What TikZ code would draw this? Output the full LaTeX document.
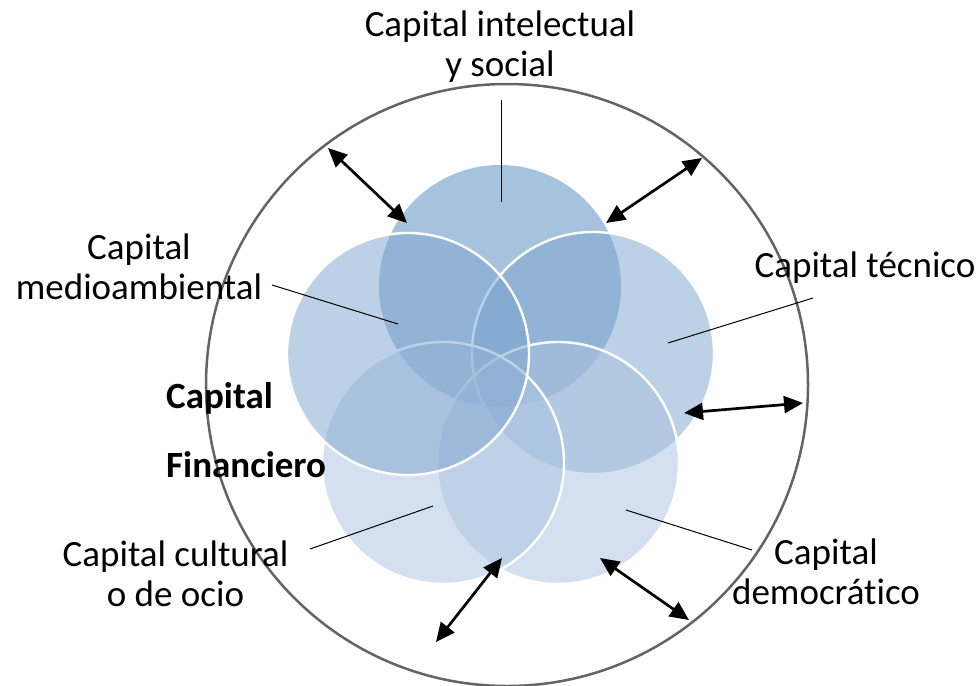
\documentclass[tikz,border=0pt]{standalone}
\usepackage{fontspec}
\setmainfont{Carlito}[Ligatures={NoCommon}]
\usetikzlibrary{arrows.meta}
\definecolor{ctop}{RGB}{79,137,191}
\definecolor{cmid}{RGB}{125,165,207}
\definecolor{cbot}{RGB}{171,195,225}
\definecolor{ring}{RGB}{100,100,100}
\begin{document}
\begin{tikzpicture}[x=1pt,y=-1pt,
  venn/.style={circle,minimum size=242pt,inner sep=0pt,fill opacity=0.5},
  rim/.style={draw=white,line width=2.4pt},
  lbl/.style={font=\fontsize{37}{40}\selectfont,inner sep=0pt,align=center,anchor=north},
  leader/.style={line width=1pt,black},
  dbl/.style={line width=2.7pt,{Triangle[length=19pt,width=17pt]}-{Triangle[length=19pt,width=17pt]}}]
\useasboundingbox (0,0) rectangle (979,685);
\fill[white] (0,0) rectangle (979,685);
% venn circles
\node[venn,fill=ctop] (ct) at (500,286) {};
\node[venn,fill=cmid,rim] (cr) at (593,353) {};
\node[venn,fill=cbot,rim] (cbr) at (558,463) {};
\node[venn,fill=cbot,rim] (cbl) at (443,463) {};
\node[venn,fill=cmid,rim] (cl) at (408,354) {};
% outer ring
\node[circle,draw=ring,line width=2.5pt,minimum size=602pt,inner sep=0pt] (outer) at (507,385) {};
% labels
\node[lbl] (tint) at (500,11) {Capital intelectual\\y social};
\node[lbl] (tmed) at (139,234) {Capital\\medioambiental};
\node[lbl] (ttec) at (865,252) {Capital técnico};
\node[lbl,align=left,anchor=north west,font=\fontsize{37}{40}\selectfont\bfseries] (tfin) at (166,382) {Capital\\[29pt]Financiero};
\node[lbl] (tcul) at (175.5,541) {Capital cultural\\o de ocio};
\node[lbl] (tdem) at (826,539) {Capital\\democrático};
% leader lines
\coordinate (lia) at (501,100); \coordinate (lib) at (501,202);
\coordinate (lma) at (272,285); \coordinate (lmb) at (398,324);
\coordinate (lta) at (813,298); \coordinate (ltb) at (668,343);
\coordinate (lca) at (310,549); \coordinate (lcb) at (433,506);
\coordinate (lda) at (752,550); \coordinate (ldb) at (626,510);
\draw[leader] (lia) -- (lib);
\draw[leader] (lma) -- (lmb);
\draw[leader] (lta) -- (ltb);
\draw[leader] (lca) -- (lcb);
\draw[leader] (lda) -- (ldb);
% double arrows
\coordinate (a1o) at (328,148); \coordinate (a1i) at (407,223);
\coordinate (a2o) at (702,158); \coordinate (a2i) at (606,223);
\coordinate (a3o) at (803,403); \coordinate (a3i) at (684,413);
\coordinate (a4o) at (436,642); \coordinate (a4i) at (502,558);
\coordinate (a5o) at (689,620); \coordinate (a5i) at (600,558);
\draw[dbl] (a1o) -- (a1i);
\draw[dbl] (a2o) -- (a2i);
\draw[dbl] (a3o) -- (a3i);
\draw[dbl] (a4o) -- (a4i);
\draw[dbl] (a5o) -- (a5i);
\end{tikzpicture}
\end{document}
